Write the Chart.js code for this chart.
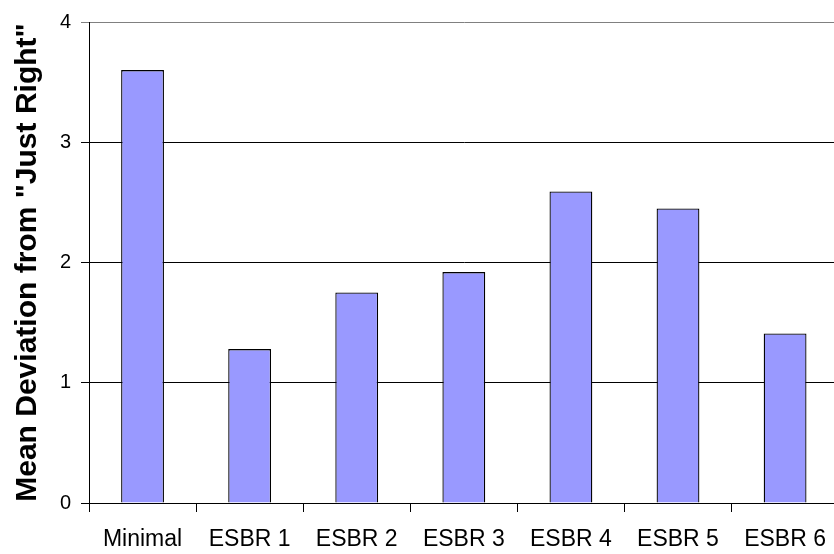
<!DOCTYPE html>
<html>
<head>
<meta charset="utf-8">
<script src="https://cdn.jsdelivr.net/npm/chart.js@4/dist/chart.umd.min.js"></script>
<style>
  html, body { margin: 0; padding: 0; overflow: hidden; background: #fff; }
  #wrap { width: 840px; height: 554px; }
</style>
</head>
<body>
<div id="wrap"><canvas id="myBar" width="840" height="554"></canvas></div>
<script>
let categories = ["Minimal", "ESBR 1", "ESBR 2", "ESBR 3", "ESBR 4", "ESBR 5", "ESBR 6"];
let deviation = [3.6, 1.28, 1.75, 1.92, 2.59, 2.45, 1.41];
let y_ticks = [0, 1, 2, 3, 4];

let font_family = "'Liberation Sans', Arial, sans-serif";
let ctx = document.getElementById("myBar").getContext("2d");

new Chart(ctx, {
    type: "bar",
    data: {
        labels: categories,
        datasets: [{
            label: "Mean Deviation",
            data: deviation,
            backgroundColor: "#9999FF",
            borderColor: "#000000",
            borderWidth: 1.3,
            borderSkipped: "bottom",
            categoryPercentage: 1.0,
            barPercentage: 0.4
        }]
    },
    options: {
        responsive: false,
        animation: false,
        layout: { padding: { top: 22, right: 0, left: 0, bottom: 0 } },
        plugins: {
            legend: { display: false },
            tooltip: { enabled: false }
        },
        scales: {
            x: {
                grid: {
                    offset: true,
                    drawOnChartArea: false,
                    drawTicks: true,
                    tickLength: 9,
                    color: "#000"
                },
                border: { color: "#000", width: 1 },
                ticks: {
                    color: "#000",
                    padding: 14,
                    maxRotation: 0,
                    font: { family: font_family, size: 23 }
                },
                afterFit: s => { s.height = 51; }
            },
            y: {
                min: 0,
                max: 4,
                afterBuildTicks: s => { s.ticks = y_ticks.map(v => ({ value: v })); },
                grid: {
                    color: c => c.tick && c.tick.value === 4 ? "#808080" : "#000",
                    lineWidth: 1,
                    tickLength: 8,
                    drawTicks: true
                },
                border: { color: "#000", width: 1 },
                ticks: {
                    color: "#000",
                    padding: 10,
                    font: { family: font_family, size: 20 }
                },
                title: {
                    display: true,
                    text: 'Mean Deviation from "Just Right"',
                    color: "#000",
                    padding: { top: 10, bottom: 0 },
                    font: { family: font_family, size: 30, weight: "bold" }
                },
                afterFit: s => { s.width = 89; }
            }
        }
    }
});
</script>
</body>
</html>
